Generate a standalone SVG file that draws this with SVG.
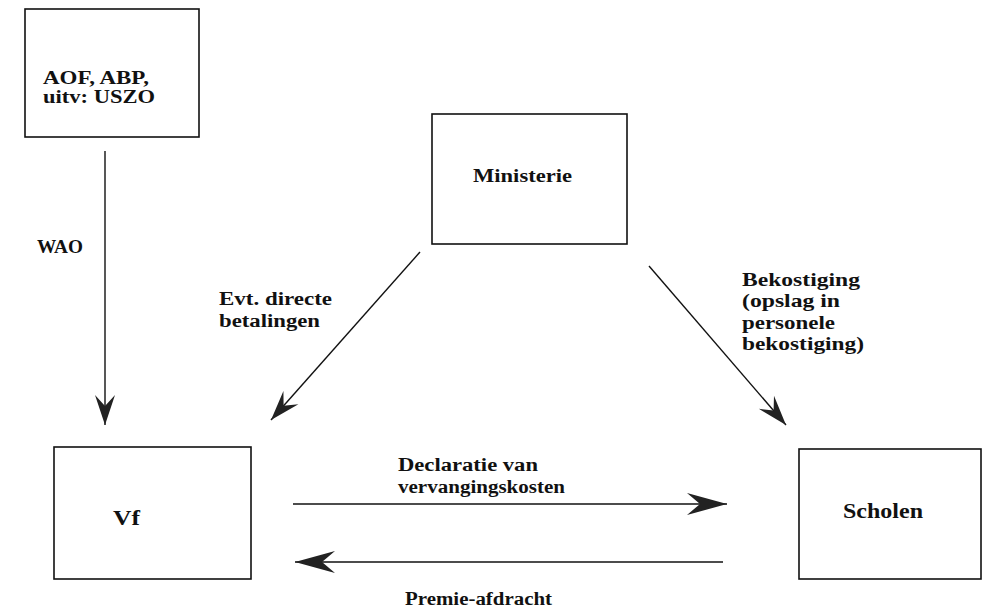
<svg xmlns="http://www.w3.org/2000/svg" width="986" height="611" viewBox="0 0 986 611">
<style>
.box{fill:#fff;stroke:#111;stroke-width:1.6}
.t{font-family:"Liberation Serif","Times New Roman",serif;font-weight:bold;fill:#111;font-size:18px}
.conn{stroke:#111;stroke-width:1.4;fill:none}
</style>
<defs>
<marker id="ah" viewBox="-32 -12 34 24" markerWidth="34" markerHeight="24" refX="0" refY="0" orient="auto" markerUnits="userSpaceOnUse">
<path d="M0,0 L-30,-10 L-19,0 L-30,10 Z" fill="#222"/>
</marker>
<marker id="ahL" viewBox="-42 -13 44 26" markerWidth="44" markerHeight="26" refX="0" refY="0" orient="auto" markerUnits="userSpaceOnUse">
<path d="M0,0 L-40,-11 L-27,0 L-40,11 Z" fill="#222"/>
</marker>
</defs>
<rect width="986" height="611" fill="#fff"/>
<g id="aof">
<rect class="box" x="25" y="9" width="174" height="128"/>
<text class="t" x="43" y="84" textLength="106" lengthAdjust="spacingAndGlyphs">AOF, ABP,</text>
<text class="t" x="43" y="103" textLength="112" lengthAdjust="spacingAndGlyphs">uitv: USZO</text>
</g>
<g id="ministerie">
<rect class="box" x="432" y="114" width="195" height="130"/>
<text class="t" x="473" y="182" textLength="99" lengthAdjust="spacingAndGlyphs">Ministerie</text>
</g>
<g id="vf">
<rect class="box" x="54" y="447" width="197" height="132"/>
<text class="t" x="113" y="525" textLength="27" lengthAdjust="spacingAndGlyphs" style="font-size:21px">Vf</text>
</g>
<g id="scholen">
<rect class="box" x="799" y="449" width="182" height="130"/>
<text class="t" x="843" y="518" textLength="80" lengthAdjust="spacingAndGlyphs" style="font-size:21px">Scholen</text>
</g>
<g id="connectors">
<line class="conn" x1="105" y1="151" x2="105" y2="425" marker-end="url(#ah)"/>
<line class="conn" x1="420" y1="252" x2="271" y2="420" marker-end="url(#ah)"/>
<line class="conn" x1="649" y1="266" x2="786" y2="425" marker-end="url(#ah)"/>
<line class="conn" x1="293" y1="504" x2="727" y2="504" marker-end="url(#ahL)"/>
<line class="conn" x1="723" y1="562" x2="295" y2="562" marker-end="url(#ahL)"/>
</g>
<g id="labels">
<text class="t" x="37" y="253" textLength="46" lengthAdjust="spacingAndGlyphs">WAO</text>
<text class="t" x="219" y="305" textLength="113" lengthAdjust="spacingAndGlyphs">Evt. directe</text>
<text class="t" x="219" y="327" textLength="101" lengthAdjust="spacingAndGlyphs">betalingen</text>
<text class="t" x="742" y="286" textLength="118" lengthAdjust="spacingAndGlyphs" style="font-size:19px">Bekostiging</text>
<text class="t" x="742" y="307" textLength="98" lengthAdjust="spacingAndGlyphs" style="font-size:19px">(opslag in</text>
<text class="t" x="742" y="329" textLength="93" lengthAdjust="spacingAndGlyphs" style="font-size:19px">personele</text>
<text class="t" x="742" y="350" textLength="122" lengthAdjust="spacingAndGlyphs" style="font-size:19px">bekostiging)</text>
<text class="t" x="398" y="471" textLength="140" lengthAdjust="spacingAndGlyphs">Declaratie van</text>
<text class="t" x="398" y="493" textLength="167" lengthAdjust="spacingAndGlyphs">vervangingskosten</text>
<text class="t" x="405" y="605" textLength="147" lengthAdjust="spacingAndGlyphs">Premie-afdracht</text>
</g>
</svg>
